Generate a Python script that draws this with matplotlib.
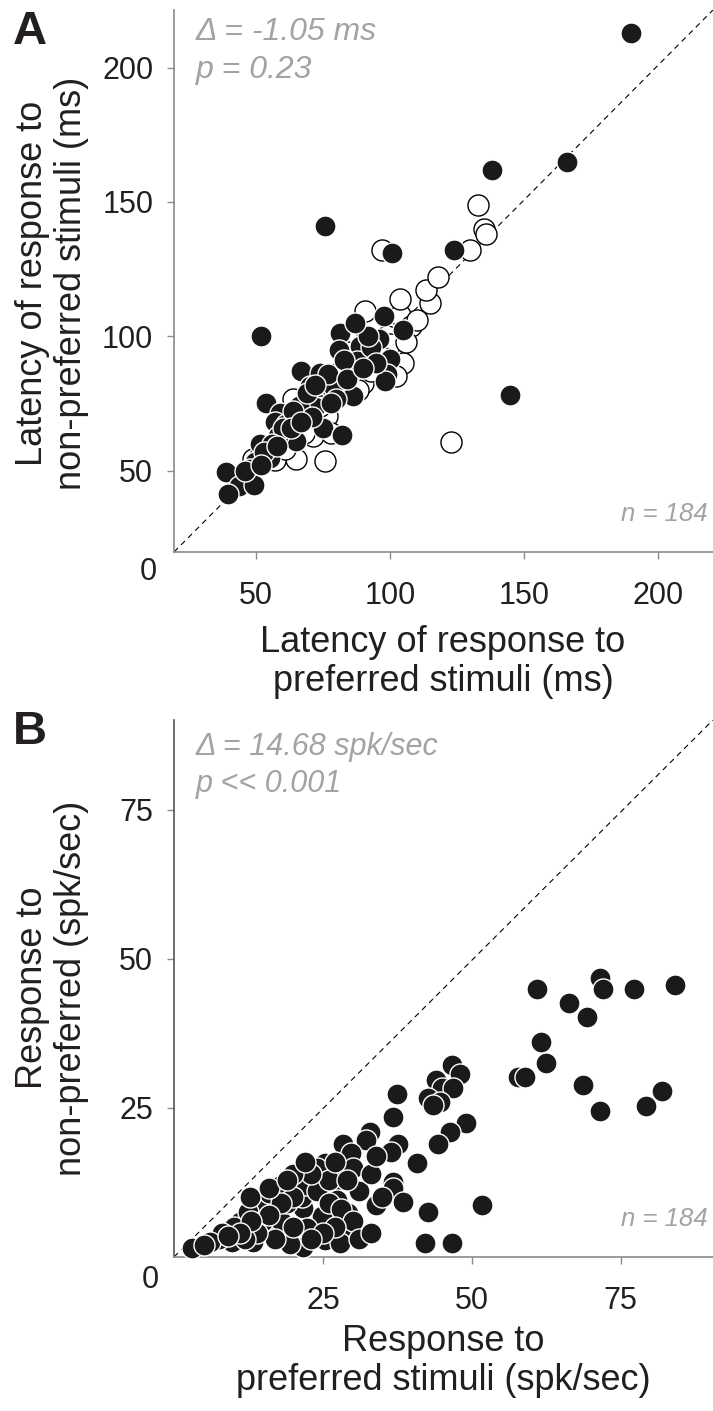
import matplotlib
matplotlib.use("Agg")
import matplotlib.pyplot as plt
import numpy as np

plt.rcParams['font.family'] = ['Liberation Sans', 'DejaVu Sans']

# Panel A: latency (ms), filled = significant, open = n.s.
a_fill_x = [190, 166, 138, 76, 101, 124, 52, 145,
            97.9, 105, 81.6, 91.3, 96, 81.1, 88.8, 100, 98.8, 98.1, 67, 73.9, 87.6, 85,
            78.9, 70.1, 86.3, 80.1, 72, 54, 59, 62.7, 57.1, 75.1, 82, 65.2, 58.3, 51.5,
            55.2, 49.6, 47.8, 38.8, 43.8, 49.3, 39.7, 61.4,
            77, 83, 93, 95, 66, 69, 64, 60, 56, 53, 46, 52, 71, 78, 84, 90, 92, 87, 72,
            63, 67, 58]
a_fill_y = [213, 165, 162, 141, 131, 132, 100, 78,
            107.4, 102.2, 101.2, 100.6, 98.8, 95, 96.3, 91.4, 85.8, 83.3, 87, 86.4, 90.7, 86.4,
            81.5, 81.5, 77.8, 76.5, 73.5, 75.3, 71.6, 67.9, 67.9, 66, 63.3, 61.1, 63, 59.9,
            54.6, 53.1, 50.6, 49.6, 44.4, 44.7, 41.4, 67.3,
            86, 91, 96, 90, 74, 79, 72, 66, 60, 57, 50, 52, 70, 75, 84, 88, 100, 105, 82,
            66, 68, 59]
a_open_x = [133, 135, 136, 97, 130, 90.7, 103.7, 114.9, 113.7, 108.1, 98.8, 105, 102.5,
            90, 63.9, 76.4, 71.4, 65.2, 75.7, 123, 49, 59,
            95, 100, 86, 80, 78, 70, 66, 62, 58, 55, 52, 60, 68, 73, 84, 93, 106, 110, 98,
            88, 82, 74, 69, 63, 57, 50, 61, 78, 104, 118]
a_open_y = [149, 140, 138, 132, 132, 109.3, 108, 112.3, 117.3, 103.7, 100, 90.1, 85.2,
            82.7, 76.5, 70.4, 63, 54.3, 53.7, 60.5, 54.3, 66.7,
            94, 97, 90, 86, 78, 72, 68, 62, 60, 57, 56, 59, 64, 76, 94, 87, 98, 106, 92,
            80, 82, 74, 70, 66, 54, 52, 58, 64, 114, 122]

# Panel B: firing rate (spk/sec)
b_x = [61, 66.4, 69.3, 71.5, 72, 77.3, 84.2, 57.7, 59, 61.6, 62.4, 68.6, 71.6, 79.2, 81.9,
       46.6, 48, 44, 45, 46.8, 42.6, 44.6, 43.5, 37.5, 36.8, 49, 46.3, 44.3, 32.9, 32.3,
       28.4, 29.8, 37.6, 36.5, 40.8, 25.4, 24, 30, 27.3, 36.8, 36.8, 38.5, 34, 51.7, 42.6,
       42.1, 46.6, 29.5, 29.2, 27.3, 24.8, 25.3, 27.8, 21.7, 23.1, 20.6, 21.5, 17.2, 22.3,
       21.7, 19.5, 15.8, 13.2, 9.7, 3, 7.5, 11, 14, 16, 18, 12.5, 10, 8, 6, 5, 15, 18, 20,
       17, 14, 12, 19, 22, 24, 26, 28, 30, 31, 33, 26, 23, 20, 18, 16, 13, 11, 9, 27, 25,
       23, 31, 33, 20, 22, 27, 29, 34, 35, 12.8, 16, 19]
b_y = [45, 42.6, 40.3, 46.8, 45, 45, 45.6, 30.2, 30.2, 36, 32.6, 28.9, 24.5, 25.3, 27.9,
       32.2, 30.7, 29.7, 28.3, 28.3, 26.7, 26, 25.5, 27.3, 23.5, 22.4, 21, 19, 21, 19.6,
       19, 17.4, 19, 17.6, 15.7, 15.7, 15, 14.9, 12.9, 12.6, 11.5, 9.2, 8.7, 8.7, 7.6,
       2.3, 2.4, 4.2, 7.3, 9.6, 6.8, 2.8, 2.3, 8.2, 12.4, 12.6, 10, 8.2, 4.8,
       1.7, 2.2, 4.2, 2.5, 2.5, 1.5, 3, 5.9, 9.2, 10.7, 12, 7.5, 5, 4, 2.5, 2, 6, 6, 5,
       3, 4, 3, 9, 12, 11, 9, 8, 6, 11, 14, 13, 14, 10, 9, 7, 6, 4, 3.5, 5, 4,
       3, 3, 4, 14, 16, 16, 13, 17, 10, 10, 11.6, 13]

txt_col = '#231f20'
ann_col = '#a3a3a3'
spine_col = '#8a8a8a'

fig = plt.figure(figsize=(7.13, 14.11), dpi=100)
W, H = 713, 1411


def style_axes(ax, ticks):
    for s in ['top', 'right']:
        ax.spines[s].set_visible(False)
    for s in ['left', 'bottom']:
        ax.spines[s].set_color(spine_col)
        ax.spines[s].set_linewidth(1.2)
    ax.set_xticks(ticks)
    ax.set_yticks(ticks)
    ax.tick_params(direction='out', length=5, width=1, color=spine_col,
                   labelcolor=txt_col, labelsize=22)
    ax.tick_params(axis='x', pad=16)
    ax.tick_params(axis='y', pad=10)
    ax.plot([0, 1], [0, 1], transform=ax.transAxes, color='black',
            lw=0.8, ls=(0, (5, 4)), zorder=1)


# ---- Panel A
axA = fig.add_axes([174 / W, 1 - 552 / H, 539 / W, 542 / H])
axA.set_xlim(19.5, 220.6)
axA.set_ylim(19.7, 221.4)
axA.scatter(a_open_x, a_open_y, s=230, facecolor='white', edgecolor='black',
            linewidth=1.0, zorder=2)
axA.scatter(a_fill_x, a_fill_y, s=230, facecolor='#1a1a1a', edgecolor='white',
            linewidth=1.0, zorder=3)
style_axes(axA, [50, 100, 150, 200])

axA.text(0.04, 0.96, '\u0394 = -1.05 ms', transform=axA.transAxes, color=ann_col,
         style='italic', fontsize=23, va='center')
axA.text(0.04, 0.89, 'p = 0.23', transform=axA.transAxes, color=ann_col,
         style='italic', fontsize=23, va='center')
axA.text(0.99, 0.07, 'n = 184', transform=axA.transAxes, color=ann_col,
         style='italic', fontsize=18.5, ha='right', va='center')

# ---- Panel B
axB = fig.add_axes([174 / W, 1 - 1257 / H, 539 / W, 537 / H])
axB.set_xlim(0, 90.5)
axB.set_ylim(0, 90.1)
axB.scatter(b_x, b_y, s=230, facecolor='#1a1a1a', edgecolor='white',
            linewidth=1.0, zorder=3, clip_on=False)
style_axes(axB, [25, 50, 75])
axB.spines['left'].set_color('#555555')

axB.text(0.04, 0.95, '\u0394 = 14.68 spk/sec', transform=axB.transAxes, color=ann_col,
         style='italic', fontsize=22, va='center')
axB.text(0.04, 0.88, 'p << 0.001', transform=axB.transAxes, color=ann_col,
         style='italic', fontsize=22, va='center')
axB.text(0.99, 0.07, 'n = 184', transform=axB.transAxes, color=ann_col,
         style='italic', fontsize=18.5, ha='right', va='center')

# corner zeros, panel letters and axis titles in pixel placement
def ftext(x, y, s, **kw):
    fig.text(x / W, 1 - y / H, s, **kw)

ftext(148, 572, '0', fontsize=22, color=txt_col, ha='center', va='center')
ftext(150, 1280, '0', fontsize=22, color=txt_col, ha='center', va='center')
ftext(30, 32, 'A', fontsize=34, fontweight='bold', color=txt_col, ha='center', va='center')
ftext(30, 732, 'B', fontsize=34, fontweight='bold', color=txt_col, ha='center', va='center')

lab = dict(fontsize=26, color=txt_col, ha='center', va='center',
           multialignment='center', linespacing=1.15)
ftext(443, 662, 'Latency of response to\npreferred stimuli (ms)', **lab)
ftext(52, 283, 'Latency of response to\nnon-preferred stimuli (ms)', rotation=90, **lab)
ftext(443, 1361, 'Response to\npreferred stimuli (spk/sec)', **lab)
ftext(52, 988, 'Response to\nnon-preferred (spk/sec)', rotation=90, **lab)

fig.savefig('out.png', dpi=100)
